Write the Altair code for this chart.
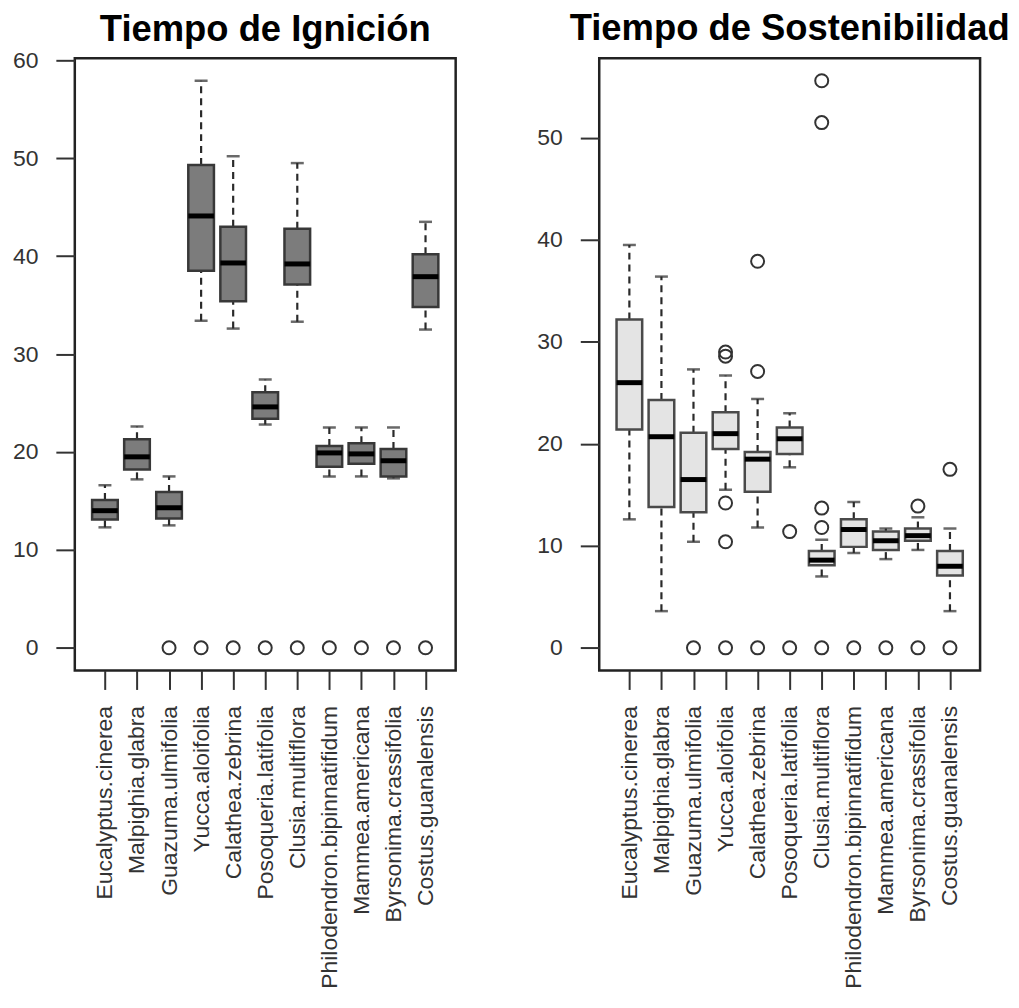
import json
import altair as alt
import pandas as pd

species = ["Eucalyptus.cinerea", "Malpighia.glabra", "Guazuma.ulmifolia",
           "Yucca.aloifolia", "Calathea.zebrina", "Posoqueria.latifolia",
           "Clusia.multiflora", "Philodendron.bipinnatifidum", "Mammea.americana",
           "Byrsonima.crassifolia", "Costus.guanalensis"]

# Tiempo de Ignición
ign_lo = [12.3, 17.2, 12.5, 33.4, 32.6, 22.8, 33.3, 17.5, 17.5, 17.3, 32.5]
ign_q1 = [13.1, 18.2, 13.2, 38.5, 35.4, 23.4, 37.1, 18.5, 18.8, 17.5, 34.8]
ign_med = [14.0, 19.5, 14.3, 44.1, 39.3, 24.6, 39.2, 19.9, 19.8, 19.1, 37.9]
ign_q3 = [15.1, 21.3, 15.9, 49.3, 43.0, 26.1, 42.8, 20.6, 20.9, 20.3, 40.2]
ign_hi = [16.6, 22.6, 17.5, 57.9, 50.2, 27.4, 49.5, 22.5, 22.5, 22.5, 43.5]
ign_out = [[], [], [0], [0], [0], [0], [0], [0], [0], [0], [0]]

# Tiempo de Sostenibilidad
sos_lo = [12.6, 3.6, 10.4, 15.5, 11.8, 17.7, 7.0, 9.3, 8.7, 9.6, 3.6]
sos_q1 = [21.4, 13.8, 13.3, 19.5, 15.3, 19.0, 8.1, 9.9, 9.6, 10.5, 7.1]
sos_med = [26.0, 20.7, 16.5, 21.0, 18.5, 20.5, 8.6, 11.6, 10.5, 11.0, 8.0]
sos_q3 = [32.2, 24.3, 21.1, 23.1, 19.2, 21.6, 9.5, 12.6, 11.4, 11.7, 9.5]
sos_hi = [39.5, 36.4, 27.3, 26.7, 24.4, 23.0, 10.6, 14.3, 11.7, 12.8, 11.7]
sos_out = [[], [], [0], [29.0, 28.6, 14.2, 10.4, 0], [37.9, 27.1, 0], [11.4, 0],
           [55.6, 51.5, 13.7, 11.8, 0], [0], [0], [13.9, 0], [17.5, 0]]

FONT = "Liberation Sans"
W, H = 382, 614


def panel(title, lo, q1, med, q3, hi, outs, fill, edge, ydom, yticks, toff):
    idx = list(range(1, len(species) + 1))
    df = pd.DataFrame({"i": idx, "lo": lo, "q1": q1, "med": med, "q3": q3, "hi": hi})
    df["a"] = df["i"] - 0.4
    df["b"] = df["i"] + 0.4
    od = pd.DataFrame([{"i": k + 1, "v": v} for k, vs in enumerate(outs) for v in vs])

    xs = alt.Scale(domain=[0.06, len(species) + 0.94], nice=False, zero=False)
    ys = alt.Scale(domain=ydom, nice=False, zero=False)
    xax = alt.Axis(values=idx, labelExpr=json.dumps(species) + "[datum.value - 1]",
                   labelAngle=270, labelAlign="right", labelBaseline="middle",
                   labelFont=FONT, labelFontSize=23, labelColor="#333",
                   labelPadding=16, labelLimit=500, tickSize=19, tickWidth=2,
                   tickColor="#333", domain=False, grid=False, labelOverlap=False)
    yax = alt.Axis(values=yticks, labelFont=FONT, labelFontSize=23, labelColor="#333",
                   labelPadding=18, tickSize=19, tickWidth=2, tickColor="#333",
                   domain=False, grid=False, labelOverlap=False)

    def X(f):
        return alt.X(f, scale=xs, axis=xax, title=None)

    def Y(f):
        return alt.Y(f, scale=ys, axis=yax, title=None)

    base = alt.Chart(df)
    whisk_hi = base.mark_rule(color="#2a2a2a", strokeWidth=2.2, strokeDash=[7, 5]).encode(
        x=X("i:Q"), y=Y("q3:Q"), y2="hi:Q")
    whisk_lo = base.mark_rule(color="#2a2a2a", strokeWidth=2.2, strokeDash=[7, 5]).encode(
        x=X("i:Q"), y=Y("lo:Q"), y2="q1:Q")
    st_hi = base.mark_tick(orient="horizontal", size=13, thickness=2.5, color="#2a2a2a").encode(
        x=X("i:Q"), y=Y("hi:Q"))
    st_lo = base.mark_tick(orient="horizontal", size=13, thickness=2.5, color="#2a2a2a").encode(
        x=X("i:Q"), y=Y("lo:Q"))
    box = base.mark_rect(fill=fill, stroke=edge, strokeWidth=2.5).encode(
        x=X("a:Q"), x2="b:Q", y=Y("q1:Q"), y2="q3:Q")
    medl = base.mark_rule(color="black", strokeWidth=5, strokeCap="butt").encode(
        x=X("a:Q"), x2="b:Q", y=Y("med:Q"))
    pts = alt.Chart(od).mark_point(shape="circle", filled=False, color="#333",
                                   strokeWidth=2, size=170, opacity=1).encode(
        x=X("i:Q"), y=Y("v:Q"))

    return alt.layer(whisk_hi, whisk_lo, st_hi, st_lo, box, medl, pts).properties(
        width=W, height=H,
        view=alt.ViewBackground(stroke="#222", strokeWidth=2.5, fill="white"),
        title=alt.TitleParams(title, font=FONT, fontSize=36.5, fontWeight="bold",
                              color="black", anchor="middle", offset=toff, frame="group"))


left = panel("Tiempo de Ignición", ign_lo, ign_q1, ign_med, ign_q3, ign_hi, ign_out,
             "#7c7c7c", "#383838", [-2.32, 60.2], [0, 10, 20, 30, 40, 50, 60], 1)
right = panel("Tiempo de Sostenibilidad", sos_lo, sos_q1, sos_med, sos_q3, sos_hi, sos_out,
              "#e4e4e4", "#4a4a4a", [-2.22, 57.8], [0, 10, 20, 30, 40, 50], 11)

chart = alt.hconcat(left, right, spacing=144, bounds="flush").properties(
    padding={"left": 3, "top": 0, "right": 0, "bottom": 0}
).configure_view(stroke="#222", strokeWidth=2.5).configure(background="white")

chart.save("out.html", embed_options={"renderer": "svg", "actions": False})
